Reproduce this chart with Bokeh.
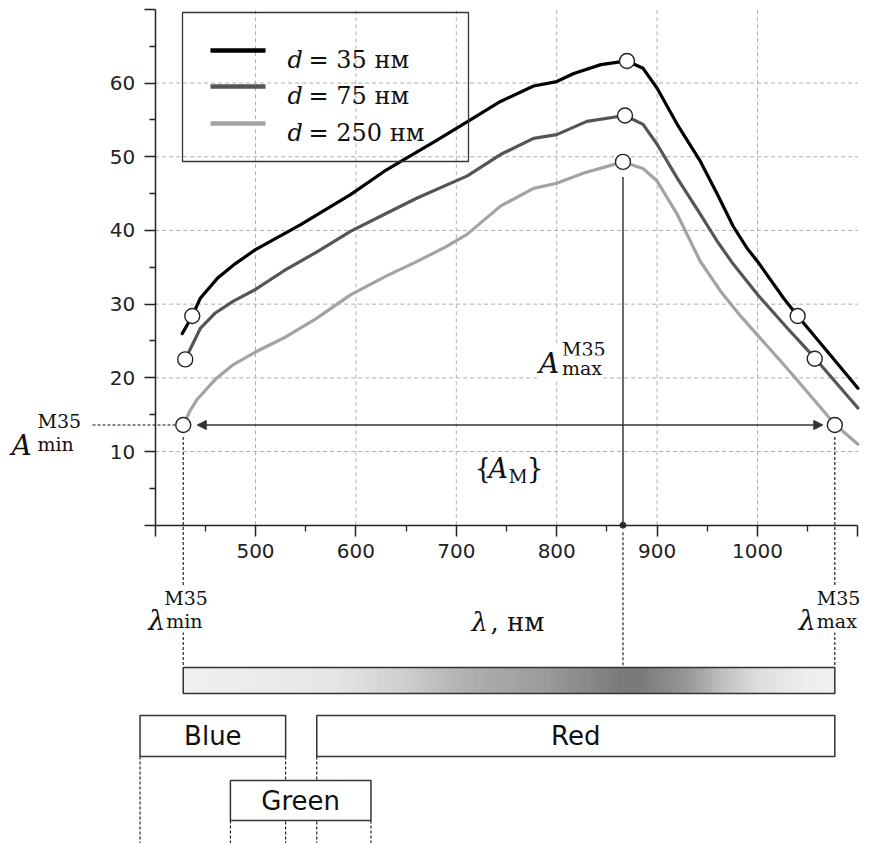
import numpy as np
from bokeh.plotting import figure
from bokeh.models import (Range1d, LinearAxis, FixedTicker, Label, Arrow,
                          NormalHead, ColumnDataSource)
from bokeh.core.properties import value
from bokeh.embed import file_html
from bokeh.resources import INLINE

# ---------------- data ----------------
wl_35 = [427, 437, 445, 462, 480, 500, 545, 595, 628, 644, 680, 714, 744, 777, 800,
         817, 844, 870, 886, 900, 920, 943, 960, 976, 990, 1000, 1026, 1040, 1070, 1100]
a_35 = [26.0, 28.4, 30.8, 33.5, 35.5, 37.4, 40.8, 44.9, 48.0, 49.3, 52.2, 55.0, 57.5, 59.6, 60.2,
        61.3, 62.5, 63.0, 62.0, 59.3, 54.4, 49.4, 44.9, 40.5, 37.5, 35.8, 30.8, 28.4, 23.5, 18.6]

wl_75 = [430, 445, 460, 478, 500, 528, 560, 595, 630, 661, 711, 744, 777, 800, 830,
         868, 886, 900, 920, 943, 960, 976, 1000, 1030, 1057, 1100]
a_75 = [22.5, 26.7, 28.8, 30.4, 32.0, 34.5, 37.0, 39.9, 42.3, 44.4, 47.4, 50.3, 52.5, 53.0, 54.8,
        55.6, 54.4, 51.7, 47.1, 42.2, 38.5, 35.4, 31.3, 26.7, 22.7, 15.9]

wl_250 = [428, 435, 442, 460, 478, 500, 528, 560, 595, 630, 661, 690, 711, 744, 777,
          800, 827, 866, 886, 900, 920, 943, 963, 983, 1000, 1030, 1050, 1077, 1100]
a_250 = [13.6, 15.6, 17.1, 19.8, 21.8, 23.5, 25.4, 28.0, 31.3, 33.8, 35.8, 37.8, 39.5, 43.3, 45.7,
         46.4, 47.8, 49.3, 48.4, 46.7, 42.2, 35.8, 31.8, 28.4, 25.8, 21.2, 18.0, 13.7, 11.0]

mk_35_wl, mk_35_a = [437, 870, 1040], [28.4, 63.0, 28.4]
mk_75_wl, mk_75_a = [430, 868, 1057], [22.5, 55.6, 22.6]
mk_250_wl, mk_250_a = [428, 866, 1077], [13.6, 49.3, 13.6]

thickness = ["35", "75", "250"]

x_ticks = [400, 500, 600, 700, 800, 900, 1000, 1100]
x_minor = [450, 550, 650, 750, 850, 950, 1050]
y_ticks = [0, 10, 20, 30, 40, 50, 60, 70]
y_minor = [5, 15, 25, 35, 45, 55, 65]

bands = ["Blue", "Green", "Red"]
band_lo = [385, 475, 561]
band_hi = [530, 615, 1077]

lam_min, lam_peak, lam_max = mk_250_wl[0], mk_250_wl[1], mk_250_wl[2]
a_min = mk_250_a[0]
a_peak = mk_250_a[1]

# gradient stops (style)
grad_x = [428, 577, 644, 710, 793, 866, 883, 933, 966, 1000, 1050, 1077]
grad_g = [240, 230, 208, 176, 153, 122, 122, 153, 192, 221, 238, 240]

# ---------------- layout helpers ----------------
W, H = 871, 843
PX_NM, PX_UNIT = 1.004, 7.37
X0, Y1 = 246.0, 71.2


def X(px):
    return X0 + px / PX_NM


def Y(py):
    return Y1 - py / PX_UNIT


def PX(x):
    return (x - X0) * PX_NM


def PY(y):
    return (Y1 - y) * PX_UNIT


p = figure(width=W, height=H, x_range=Range1d(X(0), X(W)), y_range=Range1d(Y(H), Y(0)),
           output_backend="svg", toolbar_location=None, x_axis_location=None, y_axis_location=None,
           min_border=0, outline_line_color=None, background_fill_color="white",
           border_fill_color="white")
p.grid.visible = False

AX = "#222222"
# axes
xaxis = LinearAxis(fixed_location=0, bounds=(x_ticks[0], x_ticks[-1]),
                   ticker=FixedTicker(ticks=x_ticks, minor_ticks=x_minor))
yaxis = LinearAxis(fixed_location=x_ticks[0], bounds=(y_ticks[0], y_ticks[-1]),
                   ticker=FixedTicker(ticks=y_ticks, minor_ticks=y_minor))
xaxis.major_label_overrides = {x_ticks[0]: "", x_ticks[-1]: ""}
yaxis.major_label_overrides = {y_ticks[0]: "", y_ticks[-1]: ""}
for ax, stand in ((xaxis, 8), (yaxis, 9)):
    ax.axis_line_color = AX
    ax.axis_line_width = 1.5
    ax.major_tick_line_color = AX
    ax.major_tick_line_width = 1.5
    ax.minor_tick_line_color = AX
    ax.minor_tick_line_width = 1.3
    ax.major_tick_in = 0
    ax.major_tick_out = 11
    ax.minor_tick_in = 0
    ax.minor_tick_out = 6
    ax.major_label_text_font = "DejaVu Sans"
    ax.major_label_text_font_size = "20px"
    ax.major_label_text_color = "#222222"
    ax.major_label_standoff = stand
p.add_layout(xaxis, "below")
p.add_layout(yaxis, "left")

# grid
gx = [t for t in x_ticks if x_ticks[0] < t < x_ticks[-1]]
gy = [t for t in y_ticks if y_ticks[0] < t < y_ticks[-1]]
p.segment(x0=gx, y0=[y_ticks[0]] * len(gx), x1=gx, y1=[y_ticks[-1]] * len(gx),
          line_color="#b0b0b0", line_dash="4 3", line_width=1)
p.segment(x0=[x_ticks[0]] * len(gy), y0=gy, x1=[x_ticks[-1]] * len(gy), y1=gy,
          line_color="#b0b0b0", line_dash="4 3", line_width=1)

colors = ["#000000", "#555555", "#a3a3a3"]

# curves
for wl, a, c in ((wl_35, a_35, colors[0]), (wl_75, a_75, colors[1]), (wl_250, a_250, colors[2])):
    p.line(wl, a, line_color=c, line_width=3.2, line_join="round", line_cap="round")

# legend (manual, to allow italic d)
p.quad(left=[X(182)], right=[X(468)], top=[Y(12)], bottom=[Y(161)], fill_color=None,
       line_color="#333333", line_width=1.3)
for row, c, d in zip([50, 86, 123], colors, thickness):
    p.segment(x0=[X(210)], y0=[Y(row)], x1=[X(265)], y1=[Y(row)], line_color=c, line_width=4.5)
    p.add_layout(Label(x=X(287), y=Y(row + 9), text="d", text_font="DejaVu Serif",
                       text_font_size="24px", text_font_style="italic", text_color="#111111",
                       text_baseline="alphabetic"))
    p.add_layout(Label(x=X(308), y=Y(row + 9), text=f"= {d} нм", text_font="DejaVu Serif",
                       text_font_size="24px", text_color="#111111", text_baseline="alphabetic"))

# annotation lines
DASH = "3 2"
# dotted line to A_min label
p.segment(x0=[X(92)], y0=[a_min], x1=[lam_min - 8 / PX_NM], y1=[a_min], line_color="#111111",
          line_dash=DASH, line_width=1.1)
grad_top, grad_bot = Y(667), Y(693)
# verticals at lambda_min / lambda_max
p.segment(x0=[lam_min, lam_max], y0=[a_min - 12 / PX_UNIT] * 2, x1=[lam_min, lam_max],
          y1=[grad_top] * 2, line_color="#111111", line_dash=DASH, line_width=1.1)
# peak line
p.segment(x0=[lam_peak], y0=[0], x1=[lam_peak], y1=[a_peak - 15 / PX_UNIT], line_color="#444444",
          line_width=1.6)
p.segment(x0=[lam_peak], y0=[0 - 7 / PX_UNIT], x1=[lam_peak], y1=[grad_top], line_color="#111111",
          line_dash=DASH, line_width=1.1)
p.scatter([lam_peak], [0], size=6, color="#333333")

# double arrow {A_M}
p.add_layout(Arrow(x_start=lam_min + 14 / PX_NM, y_start=a_min, x_end=lam_max - 12 / PX_NM, y_end=a_min,
                   start=NormalHead(size=9, fill_color="#333333", line_color="#333333"),
                   end=NormalHead(size=9, fill_color="#333333", line_color="#333333"),
                   line_color="#333333", line_width=1.4))

# circles
for wl, a in ((mk_35_wl, mk_35_a), (mk_75_wl, mk_75_a), (mk_250_wl, mk_250_a)):
    p.scatter(wl, a, marker="circle", size=15, fill_color="white", line_color="#222222", line_width=1.4)


# math-like labels
def lab(text, px, py, size, style="normal", bg=True):
    kw = dict(background_fill_color="white", background_fill_alpha=1.0, padding=1) if bg else {}
    p.add_layout(Label(x=X(px), y=Y(py), text=text, text_font="DejaVu Serif",
                       text_font_size=f"{size}px", text_font_style=style, text_color="#111111",
                       text_baseline="alphabetic", text_align="left", **kw))


cy = PY(a_min)
lab("A", 10, cy + 20, 28, "italic")
lab("M35", 36, cy - 4, 19)
lab("min", 36, cy + 19, 19)

lx = PX(lam_peak)
lab("A", lx - 85, 363, 28, "italic")
lab("M35", lx - 62, 348, 19)
lab("max", lx - 62, 367, 19)

lab("{", 473, 468, 27)
lab("A", 487, 468, 27, "italic")
lab("M", 507, 475, 19)
lab("}", 525, 468, 27)

c0 = PX(lam_min)
lab("λ", c0 - 36, 620, 27, "italic")
lab("M35", c0 - 20, 597, 19)
lab("min", c0 - 18, 620, 19)
c1 = PX(lam_max)
lab("λ", c1 - 37, 620, 27, "italic")
lab("M35", c1 - 19, 597, 19)
lab("max", c1 - 19, 620, 19)

lab("λ", 470, 621, 26, "italic")
lab(", нм", 489, 621, 26)

# gradient bar
edges = np.linspace(lam_min, lam_max, 161)
mids = 0.5 * (edges[:-1] + edges[1:])
gv = np.interp(mids, grad_x, grad_g).round().astype(int)
gcols = ["#%02x%02x%02x" % (g, g, g) for g in gv]
p.quad(left=edges[:-1], right=edges[1:], top=[grad_top] * len(mids), bottom=[grad_bot] * len(mids),
       fill_color=gcols, line_color=gcols, line_width=1)
p.quad(left=[lam_min], right=[lam_max], top=[grad_top], bottom=[grad_bot], fill_color=None,
       line_color="#333333", line_width=1.5)

# colour bands
row_top = {"Blue": Y(715), "Red": Y(715), "Green": Y(780)}
row_bot = {"Blue": Y(756), "Red": Y(756), "Green": Y(820)}
page_bottom = Y(H + 2)
dx_, dy0 = [], []
for b, lo, hi in zip(bands, band_lo, band_hi):
    dx_.append(lo)
    dy0.append(row_bot[b])
    if hi < lam_max:
        dx_.append(hi)
        dy0.append(row_bot[b])
p.segment(x0=dx_, y0=dy0, x1=dx_, y1=[page_bottom] * len(dx_), line_color="#111111",
          line_dash=DASH, line_width=1.1)

order = ["Blue", "Red", "Green"]
src = ColumnDataSource(dict(
    name=order,
    lo=[band_lo[bands.index(b)] for b in order],
    hi=[band_hi[bands.index(b)] for b in order],
    top=[row_top[b] for b in order],
    bot=[row_bot[b] for b in order],
    cx=[(band_lo[bands.index(b)] + band_hi[bands.index(b)]) / 2 for b in order],
    cy=[(row_top[b] + row_bot[b]) / 2 for b in order],
))
p.quad(left="lo", right="hi", top="top", bottom="bot", source=src, fill_color="white",
       line_color="#333333", line_width=1.5)
p.text(x="cx", y="cy", text="name", source=src, text_font=value("DejaVu Sans"), text_font_size="26px",
       text_align="center", text_baseline="middle", text_color="#111111")

open("out.html", "w").write(file_html(p, INLINE))
